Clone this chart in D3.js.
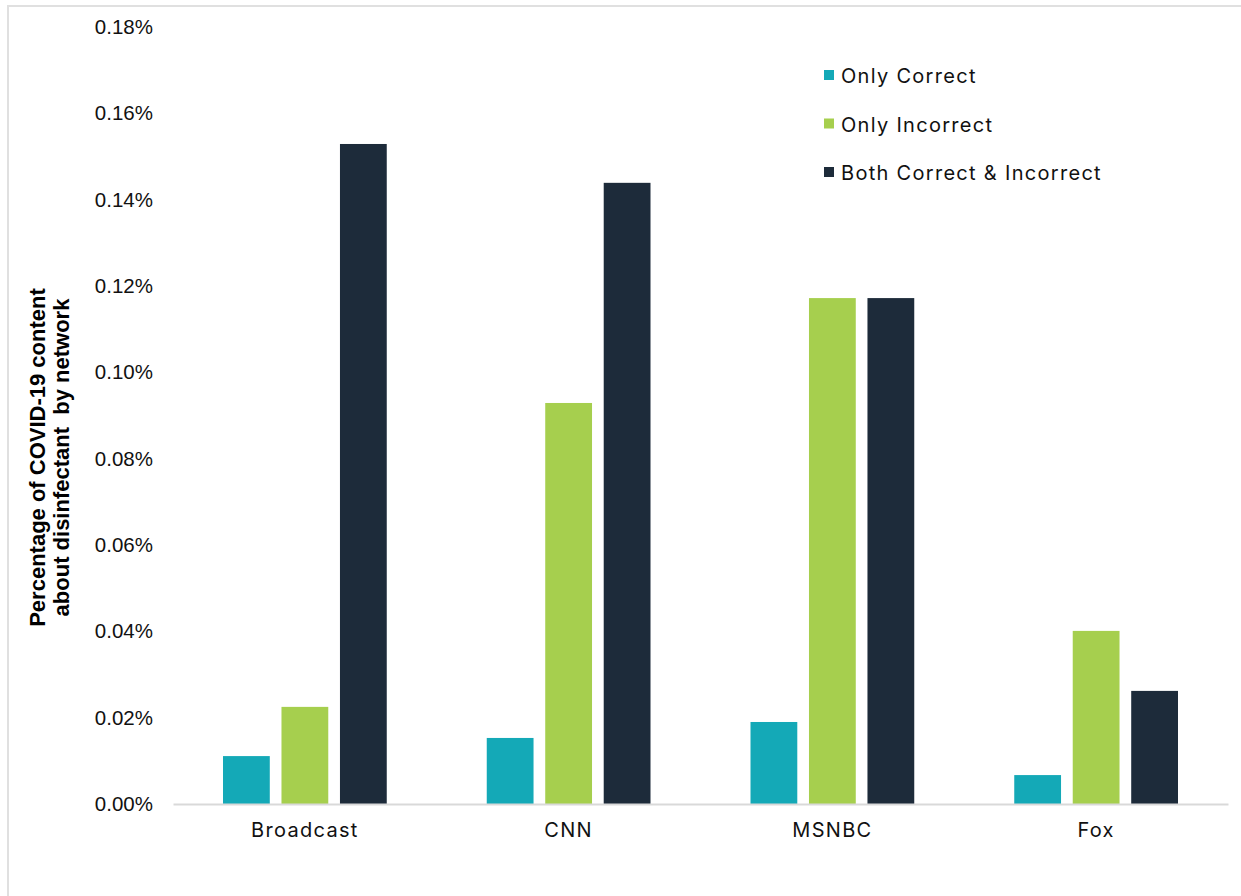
<!DOCTYPE html>
<html>
  <body style="margin:0;background:#fff;">
    <script src="https://d3js.org/d3.v7.min.js"></script>
    <script type="text/javascript">
      const width = 1241;
      const height = 896;
      const margin = { top: 27, right: 13, bottom: 92, left: 173 };

      const networks = ['Broadcast', 'CNN', 'MSNBC', 'Fox'];
      const seriesNames = ['Only Correct', 'Only Incorrect', 'Both Correct & Incorrect'];
      const onlyCorrect = [0.0111, 0.0153, 0.0190, 0.0067];
      const onlyIncorrect = [0.0225, 0.0929, 0.1172, 0.0401];
      const bothCorrectIncorrect = [0.1529, 0.1439, 0.1172, 0.0262];
      const yTicks = [0, 0.02, 0.04, 0.06, 0.08, 0.10, 0.12, 0.14, 0.16, 0.18];
      const colors = ['#14A9B7', '#A6CF4E', '#1D2B3A'];

      const seriesValues = [onlyCorrect, onlyIncorrect, bothCorrectIncorrect];
      const rows = networks.map((n, i) => ({
        network: n,
        values: seriesNames.map((s, j) => ({ key: s, value: seriesValues[j][i] })),
      }));

      const svg = d3.select('body').append('svg')
        .attr('width', width)
        .attr('height', height);

      // outer frame (only top + left visible in the reference)
      svg.append('path')
        .attr('d', `M8,${height} V6 H${width}`)
        .attr('fill', 'none')
        .attr('stroke', '#e0e0e0')
        .attr('stroke-width', 2);

      const scaleX = d3.scaleBand()
        .domain(networks)
        .range([margin.left, width - margin.right])
        .paddingInner(0)
        .paddingOuter(0);
      const scaleInner = d3.scaleBand()
        .domain(seriesNames)
        .range([50, scaleX.bandwidth() - 50])
        .paddingInner(0.2);
      const scaleY = d3.scaleLinear()
        .domain([0, 0.18])
        .range([height - margin.bottom, margin.top]);

      // y axis labels
      const axisLeft = d3.axisLeft(scaleY)
        .tickValues(yTicks)
        .tickSize(0)
        .tickPadding(20)
        .tickFormat(d => d3.format('.2f')(d) + '%');
      svg.append('g')
        .attr('transform', `translate(${margin.left}, 0)`)
        .call(axisLeft)
        .call(g => g.select('.domain').remove())
        .selectAll('text')
        .attr('font-family', '"Liberation Sans", Arial, sans-serif')
        .attr('font-size', 20.5)
        .attr('fill', '#111');

      // bars
      const group = svg.append('g').selectAll('g')
        .data(rows)
        .enter()
        .append('g')
        .attr('transform', d => `translate(${scaleX(d.network)}, 0)`);
      group.selectAll('rect')
        .data(d => d.values)
        .enter()
        .append('rect')
        .attr('x', d => scaleInner(d.key))
        .attr('y', d => scaleY(d.value))
        .attr('width', scaleInner.bandwidth())
        .attr('height', d => scaleY(0) - scaleY(d.value))
        .attr('fill', (d, i) => colors[i]);

      // x axis
      const axisBottom = d3.axisBottom(scaleX).tickSize(0).tickPadding(19);
      svg.append('g')
        .attr('transform', `translate(0, ${scaleY(0)})`)
        .call(axisBottom)
        .call(g => g.select('.domain').attr('stroke', '#d9d9d9').attr('stroke-width', 2))
        .selectAll('text')
        .attr('font-family', 'Inter, "Open Sans", sans-serif')
        .attr('font-size', 20)
        .attr('letter-spacing', 1.3)
        .attr('fill', '#111');

      // y title
      const title = svg.append('text')
        .attr('transform', `translate(50, ${(scaleY(0) + scaleY(0.18)) / 2 + 42}) rotate(-90)`)
        .attr('text-anchor', 'middle')
        .attr('font-family', '"Liberation Sans", Arial, sans-serif')
        .attr('font-weight', 'bold')
        .attr('font-size', 22)
        .attr('fill', '#000')
        .style('white-space', 'pre');
      title.append('tspan').attr('x', 0).attr('dy', -5).text('Percentage of COVID-19 content');
      title.append('tspan').attr('x', 0).attr('dy', 24).text('about disinfectant  by network');

      // legend
      const legend = svg.append('g')
        .attr('transform', 'translate(824, 70)')
        .selectAll('g')
        .data(seriesNames)
        .enter()
        .append('g')
        .attr('transform', (d, i) => `translate(0, ${i * 48.5})`);
      legend.append('rect')
        .attr('width', 10)
        .attr('height', 10)
        .attr('fill', (d, i) => colors[i]);
      legend.append('text')
        .attr('x', 17)
        .attr('y', 13)
        .attr('font-family', 'Inter, "Open Sans", sans-serif')
        .attr('font-size', 20)
        .attr('letter-spacing', 1.3)
        .attr('fill', '#111')
        .text(d => d);
    </script>
  </body>
</html>
